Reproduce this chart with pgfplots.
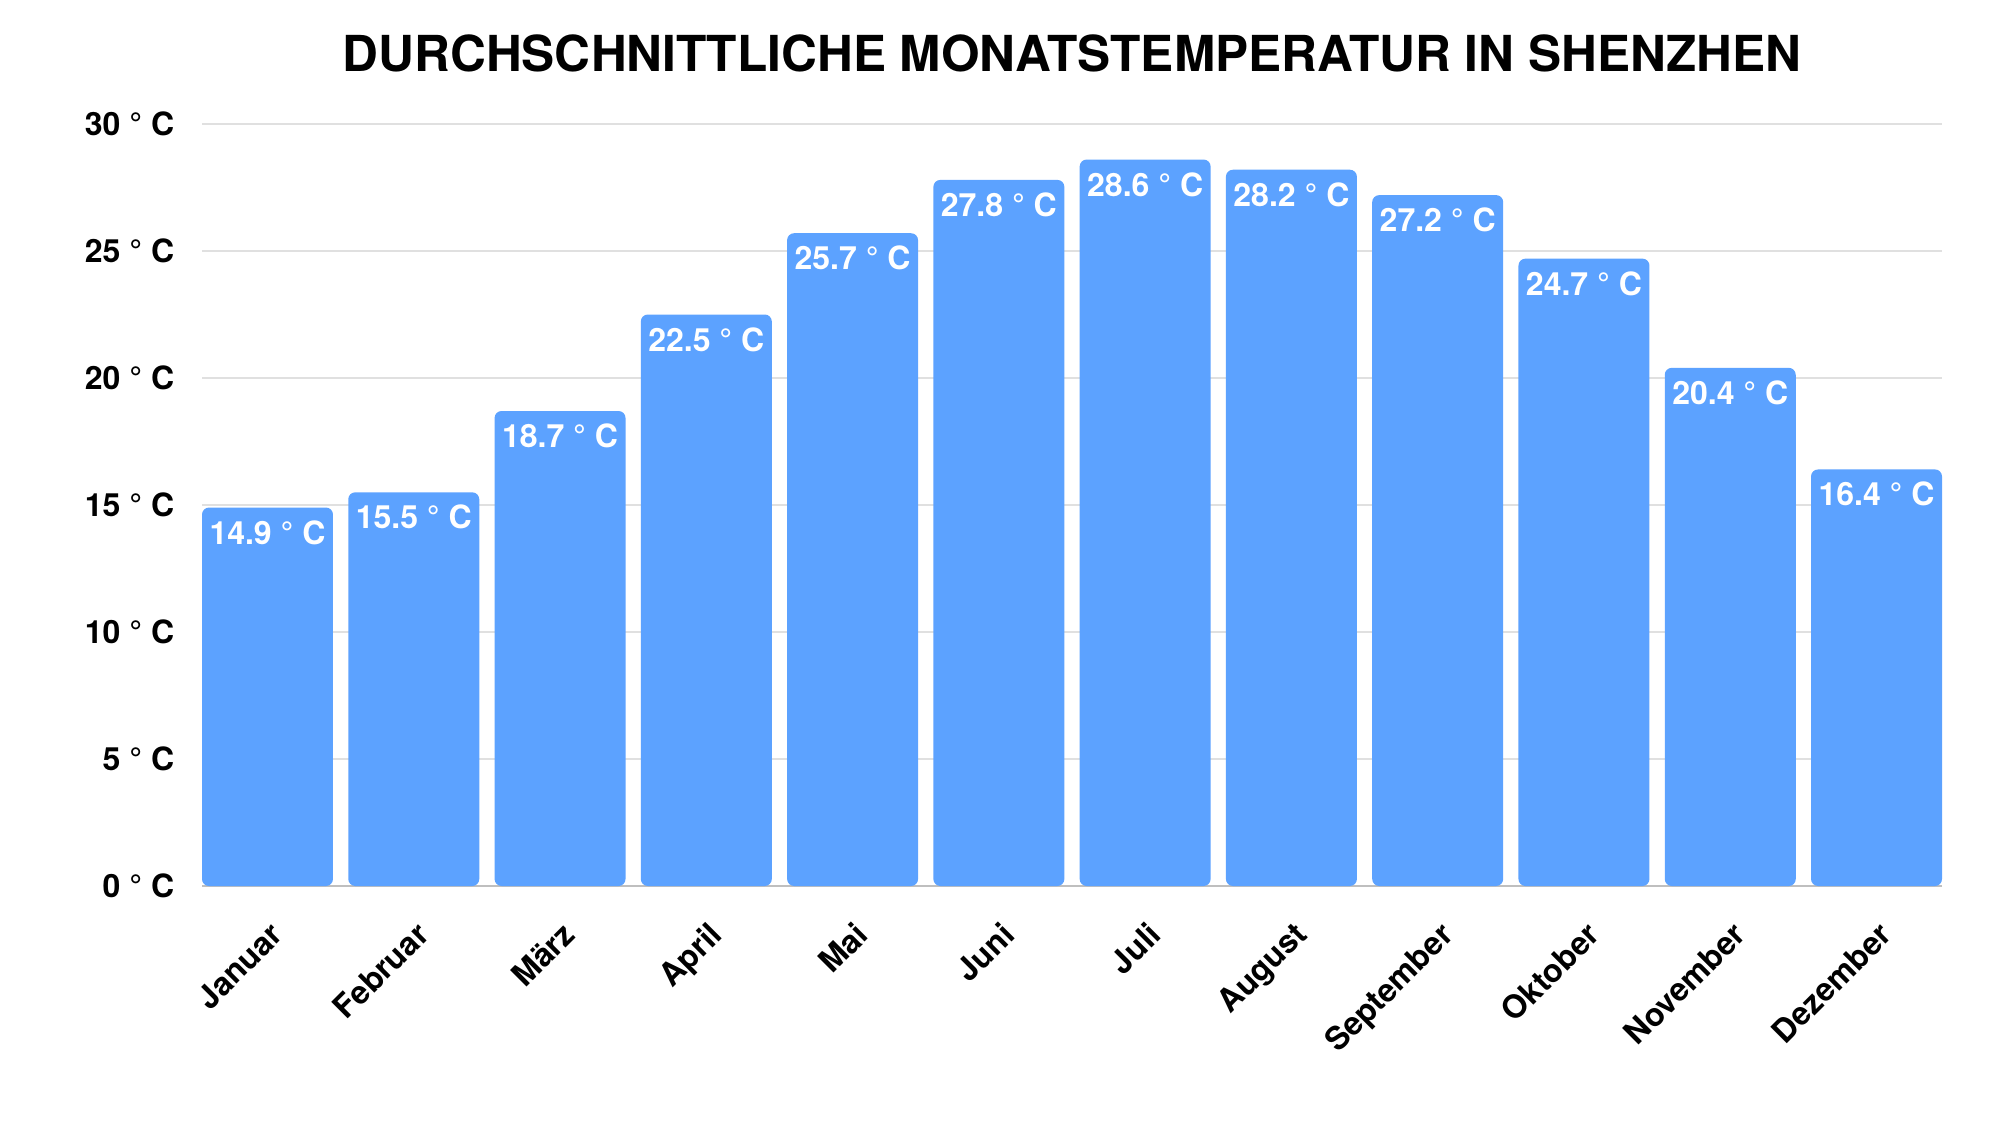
\documentclass[border=0pt]{standalone}
\usepackage{fontspec}
\setmainfont{TeX Gyre Heros}
\usepackage{pgfplots}
\pgfplotsset{compat=1.18}
\usepackage{pgfplotstable}
\definecolor{barblue}{RGB}{92,162,255}
\pgfplotstableread{
x y
0 14.9
1 15.5
2 18.7
3 22.5
4 25.7
5 27.8
6 28.6
7 28.2
8 27.2
9 24.7
10 20.4
11 16.4
}\tempdata
\begin{document}
\begin{tikzpicture}
\useasboundingbox (0,0) rectangle (500pt,281.25pt);
\begin{axis}[
  at={(50.5pt,59.75pt)}, anchor=south west,
  scale only axis, width=435pt, height=190.5pt,
  xmin=-0.4477, xmax=11.4477, ymin=0, ymax=30,
  ybar, bar width=0.8955,
  /pgf/number format/assume math mode=true,
  xtick=data,
  xticklabels={Januar,Februar,März,April,Mai,Juni,Juli,August,September,Oktober,November,Dezember},
  ytick={0,5,10,15,20,25,30},
  yticklabels={0 ° C,5 ° C,10 ° C,15 ° C,20 ° C,25 ° C,30 ° C},
  major tick length=0pt,
  axis x line*=bottom, axis y line*=left,
  y axis line style={draw=none},
  x axis line style={draw=black!25, line width=0.5pt},
  ymajorgrids, grid style={draw=black!12, line width=0.5pt},
  ticklabel style={font=\fontsize{8}{9.6}\selectfont\bfseries},
  yticklabel style={anchor=east, inner sep=0pt, xshift=-6.75pt},
  xticklabel style={rotate=45, anchor=north east, inner sep=0pt, yshift=-6pt, xshift=-5.75pt},
  title={DURCHSCHNITTLICHE MONATSTEMPERATUR IN SHENZHEN},
  title style={font=\fontsize{12.4}{15}\selectfont\bfseries, anchor=base, at={(0.5,1)}, yshift=7pt},
  nodes near coords={\pgfmathprintnumber[fixed,fixed zerofill,precision=1]{\pgfplotspointmeta} ° C},
  every node near coord/.append style={anchor=north, inner sep=0pt, yshift=-3pt, text=white, font=\fontsize{8}{9.6}\selectfont\bfseries},
]
\addplot[fill=barblue, draw=none, rounded corners=1.75pt] table[x=x,y=y]{\tempdata};
\end{axis}
\end{tikzpicture}
\end{document}
